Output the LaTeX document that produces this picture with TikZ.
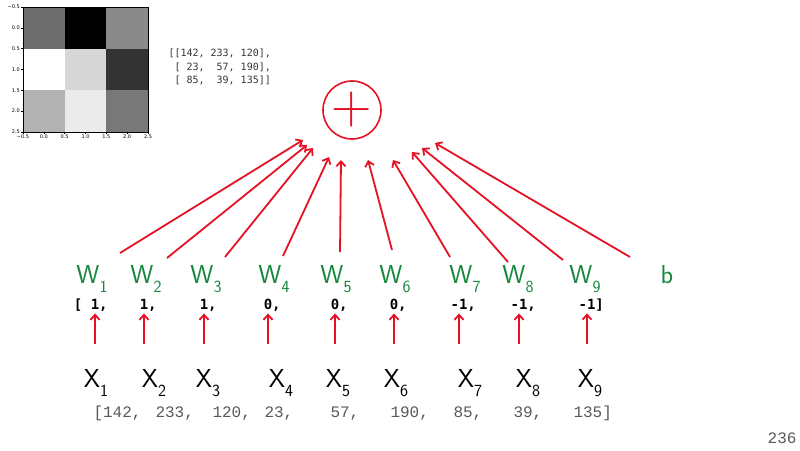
\documentclass[tikz,border=0pt]{standalone}
\usepackage{fontspec}
\usepackage{xcolor}
\usetikzlibrary{arrows.meta}
\newfontfamily\monofont{DejaVu Sans Mono}
\newfontfamily\codefont{Liberation Mono}
\newfontfamily\plotfont{DejaVu Sans}
\definecolor{stiftrot}{RGB}{228,18,36}
\definecolor{stiftgruen}{RGB}{22,135,60}
\newcommand{\idx}[2]{#1\raisebox{-.35em}{\fontsize{17}{17}\selectfont #2}}

\begin{document}
\begin{tikzpicture}[x=1pt, y=-1pt, line width=1pt,
    hand/.style={font=\sffamily\fontsize{26}{26}\selectfont, inner sep=0pt, anchor=base},
    gewicht/.style={hand, text=stiftgruen},
    eingabe/.style={hand, text=black},
    wert/.style={font=\monofont\bfseries\fontsize{14}{14}\selectfont, inner sep=0pt, anchor=base},
    daten/.style={font=\codefont\fontsize{16}{16}\selectfont, text=black!65, inner sep=0pt, anchor=base west},
    matrixtext/.style={font=\monofont\fontsize{10}{10}\selectfont, text=black!80, inner sep=0pt, anchor=west},
    tick/.style={font=\plotfont\fontsize{5}{5}\selectfont, inner sep=1pt},
    summe/.style={circle, draw=stiftrot, line width=1.6pt, minimum size=58pt, inner sep=0pt, text=stiftrot, font=\fontsize{56}{56}\selectfont},
    pfeil/.style={color=stiftrot, line width=1.8pt, -{Straight Barb[length=5pt, width=9pt]}}]
    \useasboundingbox (0,0) rectangle (800,450);

    % Bild.
    \foreach \d [count=\k from 0] in {57,100,46,0,16,80,30,8,53}
    {
        \pgfmathtruncatemacro\spalte{mod(\k,3)}
        \pgfmathtruncatemacro\zeile{div(\k,3)}
        \fill[black!\d] (23+41.67*\spalte, 7+41.67*\zeile) rectangle ++(41.67,41.67);
    }
    \draw[line width=.5pt] (23,7) rectangle (148,132);

    % Achsen.
    \foreach \t [count=\k from 0] in {−0.5,0.0,0.5,1.0,1.5,2.0,2.5}
    {
        \draw[line width=.4pt] (23,7+20.83*\k) -- (21,7+20.83*\k) node[left, tick] (ty\k) {\t};
        \draw[line width=.4pt] (23+20.83*\k,132) -- (23+20.83*\k,134) node[below, tick] (tx\k) {\t};
    }

    % Matrix.
    \node[matrixtext] (m1) at (168,53) {[[142,~233,~120],};
    \node[matrixtext] (m2) at (168,67) {~[~23,~~57,~190],};
    \node[matrixtext] (m3) at (168,80) {~[~85,~~39,~135]]};

    % Summe.
    \node[summe] (sum) at (352,110) {+};

    % Gewichte.
    \foreach \i/\x in {1/92,2/146,3/206,4/274,5/336,6/395,7/465,8/518,9/585}
    {
        \node[gewicht] (w\i) at (\x,283) {\idx{W}{\i}};
    }
    \node[gewicht] (b) at (667,283) {b};

    % Werte der Gewichte.
    \node[wert] (v1) at (95,309) {\llap{[ }1\rlap{,}};
    \node[wert] (v2) at (144,309) {1\rlap{,}};
    \node[wert] (v3) at (204,309) {1\rlap{,}};
    \node[wert] (v4) at (268,309) {0\rlap{,}};
    \node[wert] (v5) at (335,309) {0\rlap{,}};
    \node[wert] (v6) at (394,309) {0\rlap{,}};
    \node[wert] (v7) at (459,309) {-1\rlap{,}};
    \node[wert] (v8) at (519,309) {-1\rlap{,}};
    \node[wert] (v9) at (587,309) {-1\rlap{]}};

    % Eingaben.
    \foreach \i/\x in {1/96,2/154,3/208,4/281,5/338,6/396,7/470,8/528,9/590}
    {
        \node[eingabe] (x\i) at (\x,387) {\idx{X}{\i}};
    }

    % Pixelwerte.
    \node[daten] (d1) at (93,417) {[142,};
    \node[daten] (d2) at (155,417) {233,};
    \node[daten] (d3) at (212,417) {120,};
    \node[daten] (d4) at (264,417) {23,};
    \node[daten] (d5) at (330,417) {57,};
    \node[daten] (d6) at (390,417) {190,};
    \node[daten] (d7) at (453,417) {85,};
    \node[daten] (d8) at (513,417) {39,};
    \node[daten] (d9) at (573,417) {135]};
    \node[daten, anchor=base east] (seite) at (797,443) {236};

    % Pfeile zur Summe.
    \foreach \n/\sx/\sy/\ex/\ey in {w1/28/-30/-49/30, w2/21/-25/-45/35, w3/19/-26/-39/38,
        w4/9/-27/-23/47, w5/4/-31/-11/50, w6/-3/-33/16/50, w7/-15/-26/41/50,
        w8/-10/-21/60/42, w9/-22/-23/70/38, b/-37/-26/83/33}
    {
        \draw[pfeil] ([shift={(\sx,\sy)}]\n.base) -- ([shift={(\ex,\ey)}]sum.center);
    }

    % Pfeile von den Eingaben.
    \foreach \i in {1,...,9}
    {
        \draw[pfeil, shorten <=24pt, shorten >=2pt] (x\i.north -| v\i.south) -- (v\i.south);
    }
\end{tikzpicture}
\end{document}
